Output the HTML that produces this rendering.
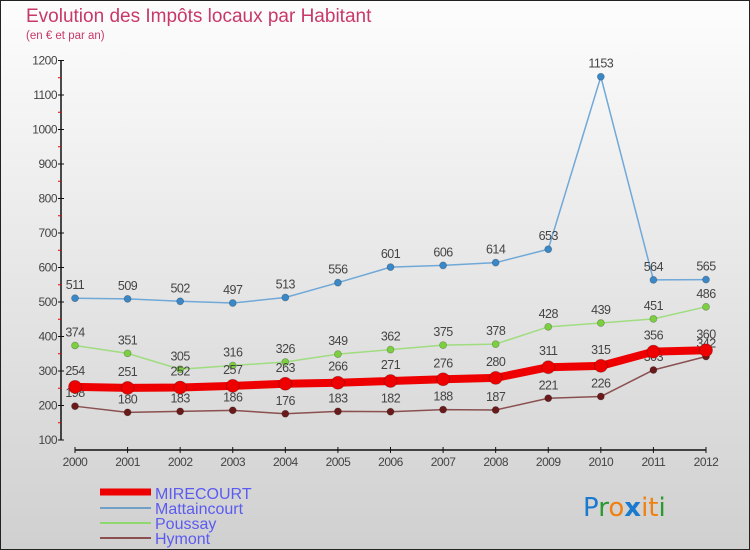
<!DOCTYPE html>
<html><head><meta charset="utf-8"><style>
body{margin:0;width:750px;height:550px;overflow:hidden;font-family:"Liberation Sans",sans-serif}
svg{display:block}
</style></head><body>
<svg id="chart" width="750" height="550" xmlns="http://www.w3.org/2000/svg">
<defs><linearGradient id="bg" x1="0" y1="0" x2="0" y2="1"><stop offset="0" stop-color="#fdfdfd"/><stop offset="1" stop-color="#d0d0d0"/></linearGradient></defs>
<rect x="0.5" y="0.5" width="749" height="549" fill="url(#bg)" stroke="#222"/>
<text x="26" y="22" font-size="19" fill="#c8386a">Evolution des Impôts locaux par Habitant</text>
<text x="26" y="39" font-size="11.5" fill="#c8386a">(en € et par an)</text>
<g id="axes"></g>
<g id="series"></g>
<g>
<line x1="100" y1="492" x2="151" y2="492" stroke="#e00" stroke-width="7"/>
<text x="155" y="499" font-size="16" fill="#5b5bf0">MIRECOURT</text>
<line x1="100" y1="508" x2="151" y2="508" stroke="#6fa0c8" stroke-width="2"/>
<text x="155" y="514" font-size="16" fill="#5b5bf0">Mattaincourt</text>
<line x1="100" y1="523" x2="151" y2="523" stroke="#8fd870" stroke-width="2"/>
<text x="155" y="529" font-size="16" fill="#5b5bf0">Poussay</text>
<line x1="100" y1="538" x2="151" y2="538" stroke="#8a5050" stroke-width="2"/>
<text x="155" y="544" font-size="16" fill="#5b5bf0">Hymont</text>
</g>
<g font-size="26" font-family="'DejaVu Sans',sans-serif">
<text x="583" y="516"><tspan fill="#1a7ad0">P</tspan><tspan fill="#2a9a30">r</tspan><tspan fill="#f08010">o</tspan><tspan fill="#1a7ad0" font-weight="bold">x</tspan><tspan fill="#f08010">i</tspan><tspan fill="#f08010">t</tspan><tspan fill="#2a9a30">i</tspan></text>
</g>
</svg>
<script>
const years=[2000,2001,2002,2003,2004,2005,2006,2007,2008,2009,2010,2011,2012];
const yTicks=[100,200,300,400,500,600,700,800,900,1000,1100,1200];
const mirecourt=[254,251,252,257,263,266,271,276,280,311,315,356,360];
const mattaincourt=[511,509,502,497,513,556,601,606,614,653,1153,564,565];
const poussay=[374,351,305,316,326,349,362,375,378,428,439,451,486];
const hymont=[198,180,183,186,176,183,182,188,187,221,226,303,342];
const NS='http://www.w3.org/2000/svg';
const X=i=>75+i*(706-75)/(years.length-1);
const Y=v=>440-(v-100)*(440-60.5)/1100;
function mk(tag,attrs,parent){const e=document.createElementNS(NS,tag);for(const k in attrs)e.setAttribute(k,attrs[k]);parent.appendChild(e);return e;}
const ax=document.getElementById('axes');
let l=mk('line',{x1:61,y1:60,x2:61,y2:440,stroke:'#111','stroke-width':1.5},ax);


yTicks.forEach((v,i)=>{
  const y=Y(v);
  mk('line',{x1:58,y1:y,x2:64,y2:y,stroke:'#111'},ax);
  if(i<yTicks.length-1)mk('line',{x1:58,y1:Y(v+50),x2:61,y2:Y(v+50),stroke:'#e00'},ax);
  const t=mk('text',{x:57,y:y+4,'font-size':12,fill:'#444','text-anchor':'end','letter-spacing':'-0.5'},ax);
  t.textContent=v;
  
  
});
l=mk('line',{x1:75,y1:450,x2:706,y2:450,stroke:'#111','stroke-width':1.5},ax);


years.forEach((yr,i)=>{
  mk('line',{x1:X(i),y1:447,x2:X(i),y2:453,stroke:'#111'},ax);
  const t=mk('text',{x:X(i),y:466,'font-size':12,fill:'#444','text-anchor':'middle','letter-spacing':'-0.5'},ax);
  t.textContent=yr;
  
  
});
const sg=document.getElementById('series');
function draw(name,data,color,dot,w,r,off){
  const g=mk('g',{},sg);
  
  
  const p=mk('polyline',{points:data.map((v,i)=>X(i)+','+Y(v)).join(' '),fill:'none',stroke:color,'stroke-width':w,'stroke-linejoin':'round'},g);
  
  
  data.forEach((v,i)=>{
    const c=mk('circle',{cx:X(i),cy:Y(v),r:r,fill:dot,stroke:'rgba(0,0,0,0.25)','stroke-width':0.8},g);
    
    
    const t=mk('text',{x:X(i),y:Y(v)-off,'font-size':12.5,fill:'#444','text-anchor':'middle','letter-spacing':'-0.5'},g);
    t.textContent=v;
    
    
  });
}
draw('hymont',hymont,'#8a5050','#6a1a1a',1.5,3.5,9);
draw('poussay',poussay,'#a0dc80','#7cd040',1.5,3.5,9);
draw('mattaincourt',mattaincourt,'#70a8d8','#3a88c8',1.5,3.5,9);
draw('mirecourt',mirecourt,'#ee0000','#ee0000',8,6.5,12);
</script>
</body></html>
